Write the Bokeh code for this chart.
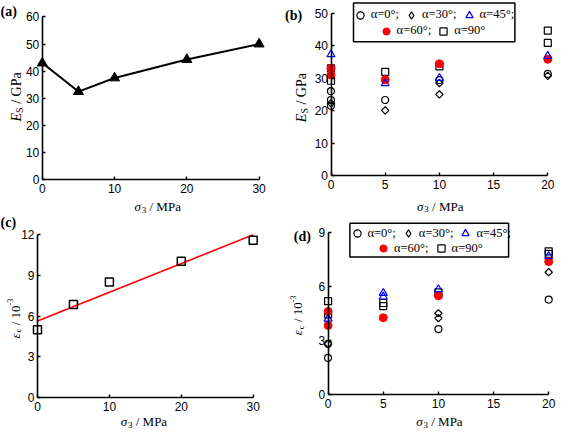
import math
from bokeh.plotting import figure
from bokeh.models import Range1d, Label, Legend, LegendItem, FixedTicker
from bokeh.layouts import gridplot
from bokeh.embed import file_html
from bokeh.resources import INLINE

# ---------------- data ----------------
# (a) secant modulus vs confining pressure
a_sigma3 = [0, 5, 10, 20, 30]
a_es = [43.0, 32.5, 37.5, 44.3, 50.0]

# (b) Es for different bedding angles
b_a0_x = [0, 0, 0, 5, 10, 20]
b_a0_y = [26.0, 23.3, 21.5, 23.3, 29.4, 31.3]
b_a30_x = [0, 5, 10, 10, 20]
b_a30_y = [22.3, 20.1, 28.5, 25.0, 30.7]
b_a45_x = [0, 5, 10, 20]
b_a45_y = [37.3, 28.4, 30.0, 36.8]
b_a60_x = [0, 0, 5, 10, 20]
b_a60_y = [33.0, 31.0, 29.5, 34.4, 35.8]
b_a90_x = [0, 0, 5, 10, 20, 20]
b_a90_y = [33.0, 29.2, 31.9, 33.6, 44.6, 40.8]

# (c) peak strain vs confining pressure, with linear fit
c_sigma3 = [0, 5, 10, 20, 30]
c_eps = [5.0, 6.86, 8.52, 10.06, 11.6]
c_fit_x = [0, 30]
c_fit_y = [5.65, 12.0]

# (d) peak strain for different bedding angles
d_a0_x = [0, 0, 10, 20]
d_a0_y = [2.83, 2.05, 3.65, 5.29]
d_a30_x = [0, 10, 10, 20]
d_a30_y = [2.83, 4.53, 4.26, 6.81]
d_a45_x = [0, 5, 5, 10, 20]
d_a45_y = [4.22, 5.65, 5.45, 5.86, 7.7]
d_a60_x = [0, 0, 5, 10, 20]
d_a60_y = [4.63, 3.85, 4.28, 5.5, 7.4]
d_a90_x = [0, 0, 5, 5, 10, 20, 20]
d_a90_y = [5.2, 4.47, 5.1, 4.93, 5.69, 7.97, 7.83]

legend_labels = ["α=0°;", "α=30°;", "α=45°;", "α=60°;", "α=90°"]

# ---------------- styling helpers ----------------
W, H = 278, 214
SERIF = "Liberation Serif"
SANS = "Liberation Sans"
RED = "#ff0000"
BLUE = "#0000ff"
NAN = float("nan")

CW = {' ': 0.25, '/': 0.278, 'M': 0.889, 'P': 0.556, 'a': 0.444, 'G': 0.722,
      'E': 0.611, 'S': 0.556, '0': 0.5, '1': 0.5, '3': 0.5, '-': 0.333,
      'σ': 0.56, 'ε': 0.45, 'c': 0.444}


def tw(text, size):
    return sum(CW.get(ch, 0.5) for ch in text) * size


def make_fig(xmax, ymax, xticks, yticks, x0px, x1px, y0px, y1px):
    """x0px/x1px: pixel (from figure left) of data 0 / xmax;
    y0px/y1px: pixel (from figure bottom) of data 0 / ymax."""
    ux = xmax / (x1px - x0px)
    uy = ymax / (y1px - y0px)
    p = figure(width=W, height=H, output_backend="svg", toolbar_location=None,
               x_range=Range1d(-x0px * ux, xmax + (W - x1px) * ux),
               y_range=Range1d(-y0px * uy, ymax + (H - y1px) * uy),
               min_border_left=0, min_border_right=0,
               min_border_top=0, min_border_bottom=0)
    p.outline_line_color = None
    p.grid.visible = False
    p.background_fill_color = "white"
    p.border_fill_color = "white"
    p.xaxis.ticker = FixedTicker(ticks=xticks)
    p.yaxis.ticker = FixedTicker(ticks=yticks)
    p.xaxis.bounds = (0, xmax)
    p.yaxis.bounds = (0, ymax)
    for ax in (p.xaxis[0], p.yaxis[0]):
        ax.fixed_location = 0
        ax.axis_line_width = 1.6
        ax.axis_line_color = "black"
        ax.major_tick_in = 3
        ax.major_tick_out = 0
        ax.major_tick_line_width = 1.4
        ax.major_tick_line_color = "black"
        ax.minor_tick_line_color = None
        ax.major_label_text_font = SANS
        ax.major_label_text_font_size = "12px"
        ax.major_label_text_color = "black"
    p.xaxis.major_label_standoff = 4
    p.yaxis.major_label_standoff = 3
    return p


def px_to_data(p, sx, sy):
    xr, yr = p.x_range, p.y_range
    return (xr.start + sx * (xr.end - xr.start) / W,
            yr.start + sy * (yr.end - yr.start) / H)


def _piece(p, x, y, t, s, st, angle=0.0):
    p.add_layout(Label(x=x, y=y, x_units="screen", y_units="screen", text=t, angle=angle,
                       text_font=SERIF, text_font_size=f"{s}px", text_font_style=st,
                       text_align="left", text_baseline="alphabetic", text_color="black"))


def hlabel(p, cx, by, pieces):
    total = sum(tw(t, s) for t, s, st, d in pieces)
    x = cx - total / 2
    for t, s, st, d in pieces:
        lead = len(t) - len(t.lstrip(" "))
        _piece(p, x + tw(" " * lead, s), by + d, t.lstrip(" "), s, st)
        x += tw(t, s)


def vlabel(p, bx, cy, pieces):
    total = sum(tw(t, s) for t, s, st, d in pieces)
    y = cy - total / 2
    for t, s, st, d in pieces:
        lead = len(t) - len(t.lstrip(" "))
        _piece(p, bx - d, y + tw(" " * lead, s), t.lstrip(" "), s, st, angle=math.pi / 2)
        y += tw(t, s)


def panel_label(p, x, y, text):
    p.add_layout(Label(x=x, y=y, x_units="screen", y_units="screen", text=text,
                       text_font=SERIF, text_font_size="14px", text_font_style="bold",
                       text_align="left", text_baseline="middle", text_color="black"))


X_PIECES = [("σ", 13, "italic", 0), ("3", 9, "normal", -3), (" / MPa", 13, "normal", 0)]
E_PIECES = [("E", 14, "italic", 0), ("S", 10, "normal", -3), (" / GPa", 14, "normal", 0)]
EPS_PIECES = [("ε", 13, "italic", 0), ("c", 9, "normal", -3), (" / 10", 13, "normal", 0),
              ("-3", 8, "normal", 5)]


def add_series(p, xs, ys):
    (x0, y0), (x30, y30), (x45, y45), (x60, y60), (x90, y90) = zip(xs, ys)
    r0 = p.scatter(x0, y0, marker="circle", size=7, fill_color=None, line_color="black", line_width=1.2)
    p.scatter(x30, y30, marker="square", angle=math.pi / 4, size=5.2, fill_color=None,
              line_color="black", line_width=1.2)
    r90 = p.scatter(x90, y90, marker="square", size=7, fill_color=None, line_color="black", line_width=1.2)
    r60 = p.scatter(x60, y60, marker="circle", size=8, fill_color=RED, line_color=RED, line_width=1)
    r45 = p.scatter(x45, y45, marker="triangle", size=8, fill_color=None, line_color=BLUE, line_width=1.2)
    # legend key for the diamonds (legend markers are drawn un-rotated); NaN point is never plotted
    r30_key = p.scatter(x=[NAN], y=[NAN], marker="diamond", size=9, fill_color=None,
                        line_color="black", line_width=1.2)
    return [r0, r30_key, r45, r60, r90]


def add_legend(p, rends, box, row1, row2):
    left, right, top, bottom = box
    x_l, y_b = px_to_data(p, left, bottom)
    x_r, y_t = px_to_data(p, right, top)
    p.quad(left=[x_l], right=[x_r], bottom=[y_b], top=[y_t],
           fill_color="white", fill_alpha=1.0, line_color="black", line_width=1.5)
    groups = [(range(0, 3), row1), (range(3, 5), row2)]
    for idx, loc in groups:
        items = [LegendItem(label=legend_labels[i], renderers=[rends[i]]) for i in idx]
        leg = Legend(items=items, location=loc, orientation="horizontal",
                     glyph_width=18, glyph_height=22, label_height=22, label_width=10,
                     label_standoff=2, spacing=3, padding=0, margin=0,
                     label_text_font=SERIF, label_text_font_size="12.5px",
                     label_text_color="black",
                     border_line_color=None, background_fill_alpha=0.0)
        p.add_layout(leg, "center")


# ---------------- (a) ----------------
pa = make_fig(30, 60, [0, 10, 20, 30], [0, 10, 20, 30, 40, 50, 60], 41.8, 258.6, 34.7, 197.6)
pa.line(a_sigma3, a_es, line_width=2, line_color="black")
pa.scatter(a_sigma3, a_es, marker="triangle", size=10, fill_color="black", line_color="black")
hlabel(pa, 157.2, 8, X_PIECES)
vlabel(pa, 15.6, 117.6, E_PIECES)
panel_label(pa, 0, 203.4, "(a)")

# ---------------- (b) ----------------
pb = make_fig(20, 50, [0, 5, 10, 15, 20], [0, 10, 20, 30, 40, 50], 52.5, 269.3, 38.6, 201.5)
rb = add_series(pb, [b_a0_x, b_a30_x, b_a45_x, b_a60_x, b_a90_x],
                [b_a0_y, b_a30_y, b_a45_y, b_a60_y, b_a90_y])
add_legend(pb, rb, (75.0, 236.4, 211.4, 172.8), (72.7, 188.5), (98.6, 172.4))
hlabel(pb, 161.8, 8.5, X_PIECES)
vlabel(pb, 22.7, 116.9, E_PIECES)
panel_label(pb, 6.5, 199.5, "(b)")

# ---------------- (c) ----------------
pc = make_fig(30, 12, [0, 10, 20, 30], [0, 3, 6, 9, 12], 37, 252.7, 30.8, 193.7)
pc.line(c_fit_x, c_fit_y, line_width=1.6, line_color=RED)
pc.scatter(c_sigma3, c_eps, marker="square", size=8, fill_color=None, line_color="black", line_width=1.5)
hlabel(pc, 143.4, 7, X_PIECES)
vlabel(pc, 14.6, 109.9, EPS_PIECES)
panel_label(pc, 0, 206, "(c)")

# ---------------- (d) ----------------
pd_ = make_fig(20, 9, [0, 5, 10, 15, 20], [0, 3, 6, 9], 49.6, 270.2, 33.7, 195.7)
rd = add_series(pd_, [d_a0_x, d_a30_x, d_a45_x, d_a60_x, d_a90_x],
                [d_a0_y, d_a30_y, d_a45_y, d_a60_y, d_a90_y])
add_legend(pd_, rd, (71.4, 230.1, 205.3, 171.6), (69.5, 184.0), (96.0, 169.0))
hlabel(pd_, 160.9, 7, X_PIECES)
vlabel(pd_, 19.2, 113.1, EPS_PIECES)
panel_label(pd_, 15.3, 191.8, "(d)")

grid = gridplot([[pa, pb], [pc, pd_]], toolbar_location=None)

with open("out.html", "w") as f:
    f.write(file_html(grid, INLINE))
